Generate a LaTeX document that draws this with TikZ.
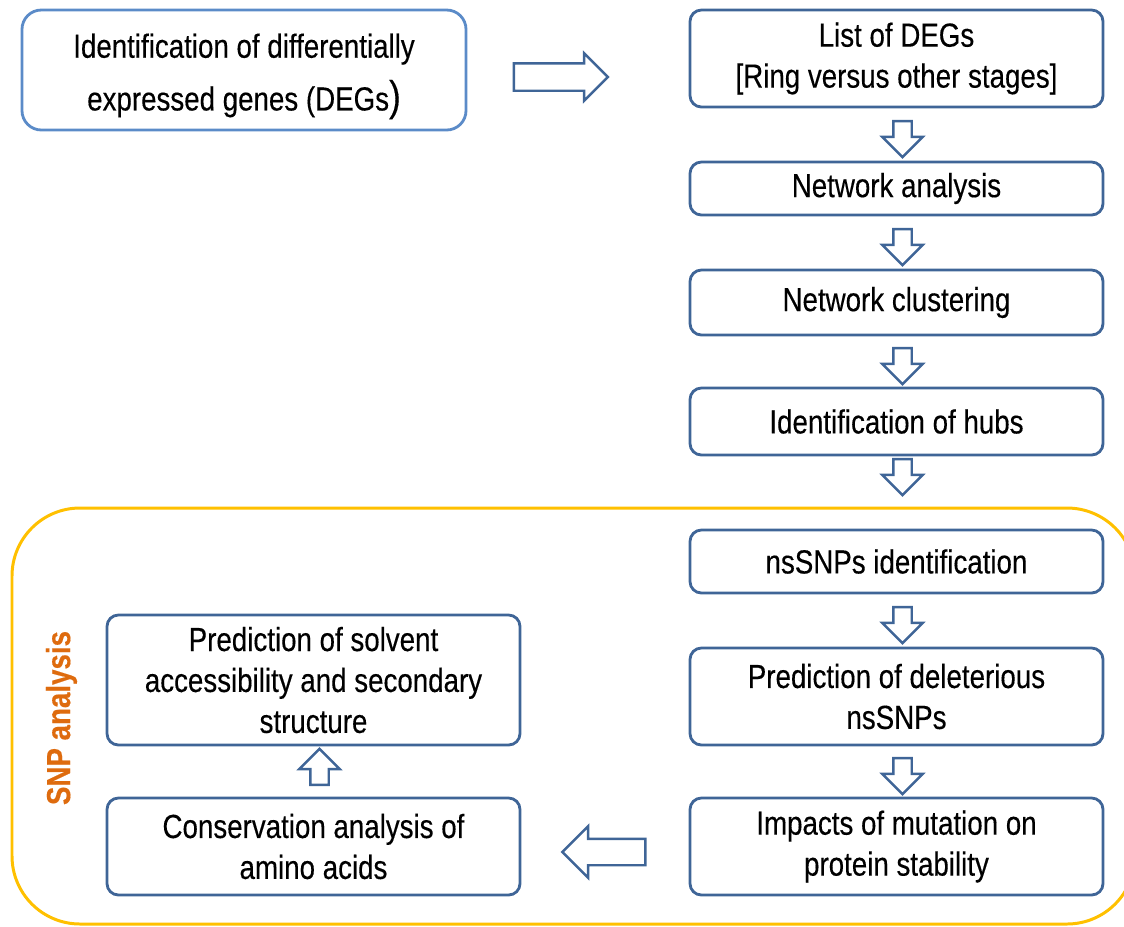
\documentclass[tikz,border=0pt]{standalone}
\usepackage{fontspec}
\setmainfont{Liberation Sans}[FakeStretch=0.83,FakeBold=0.3]
\usetikzlibrary{positioning,calc,shapes.arrows}
\definecolor{cBox}{HTML}{3F6597}
\definecolor{cTop}{HTML}{5B8BC8}
\definecolor{cFrame}{HTML}{FFC000}
\definecolor{cLabel}{HTML}{DE6B0E}
\tikzset{
  step-box/.style={draw=cBox,line width=1.6pt,rounded corners=6.5pt,
    minimum width=8.26cm,align=center,inner sep=0pt,outer sep=0pt,
    font=\fontsize{19}{23.3}\selectfont},
  start-box/.style={step-box,draw=cTop,rounded corners=11pt,minimum width=8.88cm,
    font=\fontsize{19}{30}\selectfont},
  % hollow block arrows between the steps
  hollow-down/.style={single arrow,draw=cBox,line width=1.4pt,rotate=-90,
    minimum height=0.72cm,minimum width=0pt,inner xsep=0pt,inner ysep=0.16cm,
    single arrow head extend=0.22cm},
  hollow-up/.style={hollow-down,rotate=180},
  hollow-side/.style={single arrow,draw=cBox,line width=1.4pt,
    minimum width=0pt,inner xsep=0pt,inner ysep=0.25cm,
    single arrow head extend=0.2cm},
  snp-frame/.style={draw=cFrame,line width=1.7pt,rounded corners=1.36cm},
}

\begin{document}
\begin{tikzpicture}[node distance=1.1cm]
  \path[use as bounding box,clip] (0,0) rectangle (22.48,-18.52);
  % outer SNP frame (cut off at the page edge)
  \draw[snp-frame] (0.24,-10.16) rectangle (22.7,-18.48);
  \node[rotate=90,text=cLabel,font=\bfseries\fontsize{19}{20}\selectfont] (snp) at (1.23,-14.36) {SNP analysis};

  \node[start-box,minimum height=2.4cm] (degid) at (4.88,-1.4)
    {\strut Identification of differentially\\expressed genes (DEGs{\fontsize{24}{24}\selectfont)}};

  \node[step-box,minimum height=1.94cm,anchor=north] (deglist) at (17.93,-0.2)
    {List of DEGs\\{[}Ring versus other stages{]}};
  \node[step-box,minimum height=1.06cm,below=of deglist] (netan) {Network analysis};
  \node[step-box,minimum height=1.3cm,below=of netan] (netcl) {Network clustering};
  \node[step-box,minimum height=1.34cm,below=1.06cm of netcl] (hubs) {Identification of hubs};
  \node[step-box,minimum height=1.26cm,below=1.5cm of hubs] (snpid) {nsSNPs identification};
  \node[step-box,minimum height=1.94cm,below=of snpid] (delet) {Prediction of deleterious\\nsSNPs};
  \node[step-box,minimum height=1.94cm,below=1.06cm of delet] (stab) {Impacts of mutation on\\protein stability};
  \node[step-box,minimum height=1.94cm,left=3.4cm of stab] (consv) {Conservation analysis of\\amino acids};
  \node[step-box,minimum height=2.6cm,above=1.06cm of consv] (solv)
    {Prediction of solvent\\accessibility and secondary\\structure};

  \node[hollow-side,minimum height=1.88cm] (a0) at (11.08,-1.54) {};
  \node[hollow-down] (a1) at ($(deglist.south)!0.5!(netan.north)+(0.12,0)$) {};
  \node[hollow-down] (a2) at ($(netan.south)!0.5!(netcl.north)+(0.12,0)$) {};
  \node[hollow-down] (a3) at ($(netcl.south)!0.5!(hubs.north)+(0.12,0)$) {};
  \node[hollow-down] (a4) at ($(hubs.south)!0.5!(snpid.north)+(0.12,0.4)$) {};
  \node[hollow-down] (a5) at ($(snpid.south)!0.5!(delet.north)+(0.12,0)$) {};
  \node[hollow-down] (a6) at ($(delet.south)!0.5!(stab.north)+(0.12,0)$) {};
  \node[hollow-side,minimum height=1.66cm,rotate=180,inner ysep=0.24cm,
    single arrow head extend=0.25cm] (a7) at (12.21,-17.04) {};
  \node[hollow-up] (a8) at ($(consv.north)!0.5!(solv.south)+(0.12,0)$) {};
\end{tikzpicture}
\end{document}
